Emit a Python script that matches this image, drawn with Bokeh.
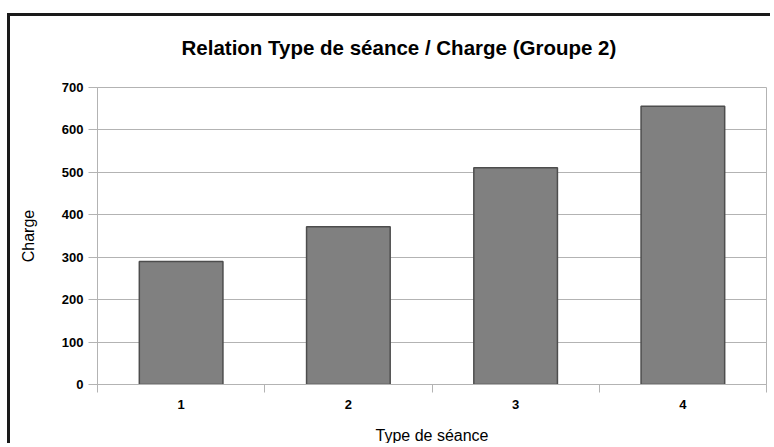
from bokeh.plotting import figure
from bokeh.models import FixedTicker, LinearAxis, Range1d, Title
from bokeh.embed import file_html
from bokeh.resources import INLINE

# Data
categories = ["1", "2", "3", "4"]
positions = [1, 2, 3, 4]
charge = [290, 372, 511, 656]
y_ticks = [0, 100, 200, 300, 400, 500, 600, 700]
boundaries = [0.5, 1.5, 2.5, 3.5, 4.5]
title_text = "Relation Type de séance / Charge (Groupe 2)"
y_label = "Charge"
x_label = "Type de séance"

FONT = "Liberation Sans"

p = figure(width=763, height=430, output_backend="svg", toolbar_location=None,
           x_range=Range1d(0.5, 4.5), y_range=Range1d(0, 700),
           min_border_left=87, min_border_top=71, min_border_right=7, min_border_bottom=62)

p.styles = {"border-left": "3px solid #1a1a1a", "border-top": "3px solid #1a1a1a",
            "margin-top": "13px", "margin-left": "7px"}

# spacer (nearest the frame), then the real title above it
spacer = Title(text=" ", text_font_size="1px", standoff=21)
p.add_layout(spacer, "above")
title = Title(text=title_text, text_font=FONT, text_font_size="20.5px",
              text_font_style="bold", text_color="#000000", align="left",
              offset=84, standoff=10)
p.add_layout(title, "above")

p.vbar(x=positions, top=charge, width=0.5, fill_color="#808080",
       line_color="#4d4d4d", line_width=1.5)

# y axis
ya = p.yaxis[0]
ya.ticker = FixedTicker(ticks=y_ticks)
ya.minor_tick_line_color = None
ya.major_tick_in = 0
ya.major_tick_out = 9
ya.major_tick_line_color = "#b3b3b3"
ya.axis_line_color = "#b3b3b3"
ya.major_label_text_font = FONT
ya.major_label_text_font_size = "13px"
ya.major_label_text_font_style = "bold"
ya.major_label_text_color = "#000000"
ya.major_label_standoff = 5
ya.axis_label = y_label
ya.axis_label_text_font = FONT
ya.axis_label_text_font_size = "16px"
ya.axis_label_text_font_style = "normal"
ya.axis_label_text_color = "#000000"
ya.axis_label_standoff = 22

# x axis: boundary ticks only
xa = p.xaxis[0]
xa.ticker = FixedTicker(ticks=boundaries)
xa.major_label_overrides = {b: "" for b in boundaries}
xa.major_label_text_font_size = "0px"
xa.major_label_standoff = 0
xa.minor_tick_line_color = None
xa.major_tick_in = 0
xa.major_tick_out = 8
xa.major_tick_line_color = "#b3b3b3"
xa.axis_line_color = "#b3b3b3"

# x axis: category labels
xa2 = LinearAxis(ticker=FixedTicker(ticks=positions),
                 major_label_overrides={pos: c for pos, c in zip(positions, categories)})
xa2.axis_line_color = None
xa2.major_tick_line_color = None
xa2.minor_tick_line_color = None
xa2.major_tick_in = 0
xa2.major_tick_out = 0
xa2.major_label_standoff = 7
xa2.major_label_text_font = FONT
xa2.major_label_text_font_size = "13px"
xa2.major_label_text_font_style = "bold"
xa2.major_label_text_color = "#000000"
xa2.axis_label = x_label
xa2.axis_label_text_font = FONT
xa2.axis_label_text_font_size = "16px"
xa2.axis_label_text_font_style = "normal"
xa2.axis_label_text_color = "#000000"
xa2.axis_label_standoff = 15
p.add_layout(xa2, "below")

p.xgrid.grid_line_color = None
p.ygrid.ticker = FixedTicker(ticks=y_ticks)
p.ygrid.grid_line_color = "#b3b3b3"
p.ygrid.grid_line_width = 1

p.outline_line_color = "#b3b3b3"
p.background_fill_color = "white"
p.border_fill_color = "white"

open("out.html", "w").write(file_html(p, INLINE))
